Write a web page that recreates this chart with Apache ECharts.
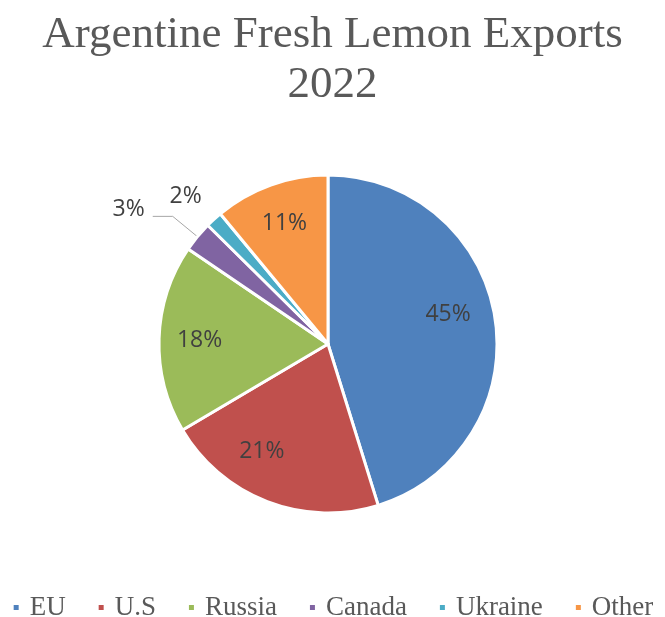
<!DOCTYPE html>
<html>
<head>
<meta charset="utf-8">
<script src="https://cdn.jsdelivr.net/npm/echarts@6/dist/echarts.min.js"></script>
<style>html,body{margin:0;padding:0;background:#fff}#c{width:665px;height:617px}</style>
</head>
<body>
<div id="c"></div>
<script>
var categories = ['EU', 'U.S', 'Russia', 'Canada', 'Ukraine', 'Other'];
var shares = [45.2, 21.3, 18.0, 2.9, 1.6, 11.0];
var colors = ['#4F81BD', '#C0504D', '#9BBB59', '#8064A2', '#4BACC6', '#F79646'];
var smallSlices = ['Canada', 'Ukraine'];

var fmt = function (p) { return Math.round(p.value) + '%'; };
var fmtUp = function (p) { return Math.round(p.value) + '%\n{s|}'; };
function spacer(h) { return { s: { height: h, width: 1 } }; }

var mainData = categories.map(function (name, i) {
  var d = { name: name, value: shares[i], itemStyle: { color: colors[i] } };
  if (name === 'Canada') {
    d.label = { show: true, position: 'outside', distanceToLabelLine: 8, formatter: fmtUp, rich: spacer(14) };
    d.labelLine = { show: true, length: 32, length2: 20 };
  } else if (name === 'Ukraine') {
    d.label = { show: true, position: 'outside', distanceToLabelLine: 4, formatter: fmtUp, rich: spacer(28) };
    d.labelLine = { show: false, length: 12, length2: 0 };
  } else {
    d.label = { show: false };
    d.labelLine = { show: false };
  }
  return d;
});

var overlayPad = { 'EU': [0, 14, 0, 0], 'U.S': [0, 40, 0, 0] };
var overlayUp = { 'EU': 20, 'U.S': 24 };
var overlayData = categories.map(function (name, i) {
  var lab = { show: smallSlices.indexOf(name) < 0 };
  if (overlayPad[name]) lab.padding = overlayPad[name];
  if (overlayUp[name]) { lab.formatter = fmtUp; lab.rich = spacer(overlayUp[name]); }
  return { name: name, value: shares[i], label: lab };
});

var chart = echarts.init(document.getElementById('c'), null, { renderer: 'canvas' });
chart.setOption({
  animation: false,
  title: {
    text: 'Argentine Fresh Lemon Exports\n2022',
    left: 'center', top: 5,
    textStyle: { fontFamily: 'Liberation Serif', fontSize: 45, fontWeight: 'normal', color: '#595959', lineHeight: 50 }
  },
  legend: {
    top: 589, left: 'center',
    icon: 'rect', itemWidth: 7, itemHeight: 7, itemGap: 31,
    textStyle: { fontFamily: 'Liberation Serif', fontSize: 27, color: '#595959', padding: [0, 0, 0, 5] },
    data: categories
  },
  series: [{
    type: 'pie',
    center: [328, 344], radius: [0, 169],
    clockwise: true, startAngle: 90,
    avoidLabelOverlap: false,
    itemStyle: { borderColor: '#ffffff', borderWidth: 3 },
    label: { formatter: fmt, fontFamily: 'Open Sans', fontSize: 23, color: '#404040' },
    labelLine: { lineStyle: { color: '#A6A6A6', width: 1 } },
    emphasis: { disabled: true },
    data: mainData
  }, {
    type: 'pie', silent: true,
    center: [328, 344], radius: [82, 169],
    clockwise: true, startAngle: 90,
    avoidLabelOverlap: false,
    itemStyle: { color: 'rgba(0,0,0,0)', borderWidth: 0 },
    label: { position: 'inside', formatter: fmt, fontFamily: 'Open Sans', fontSize: 23, color: '#404040' },
    labelLine: { show: false },
    emphasis: { disabled: true },
    data: overlayData
  }]
});
</script>
</body>
</html>
